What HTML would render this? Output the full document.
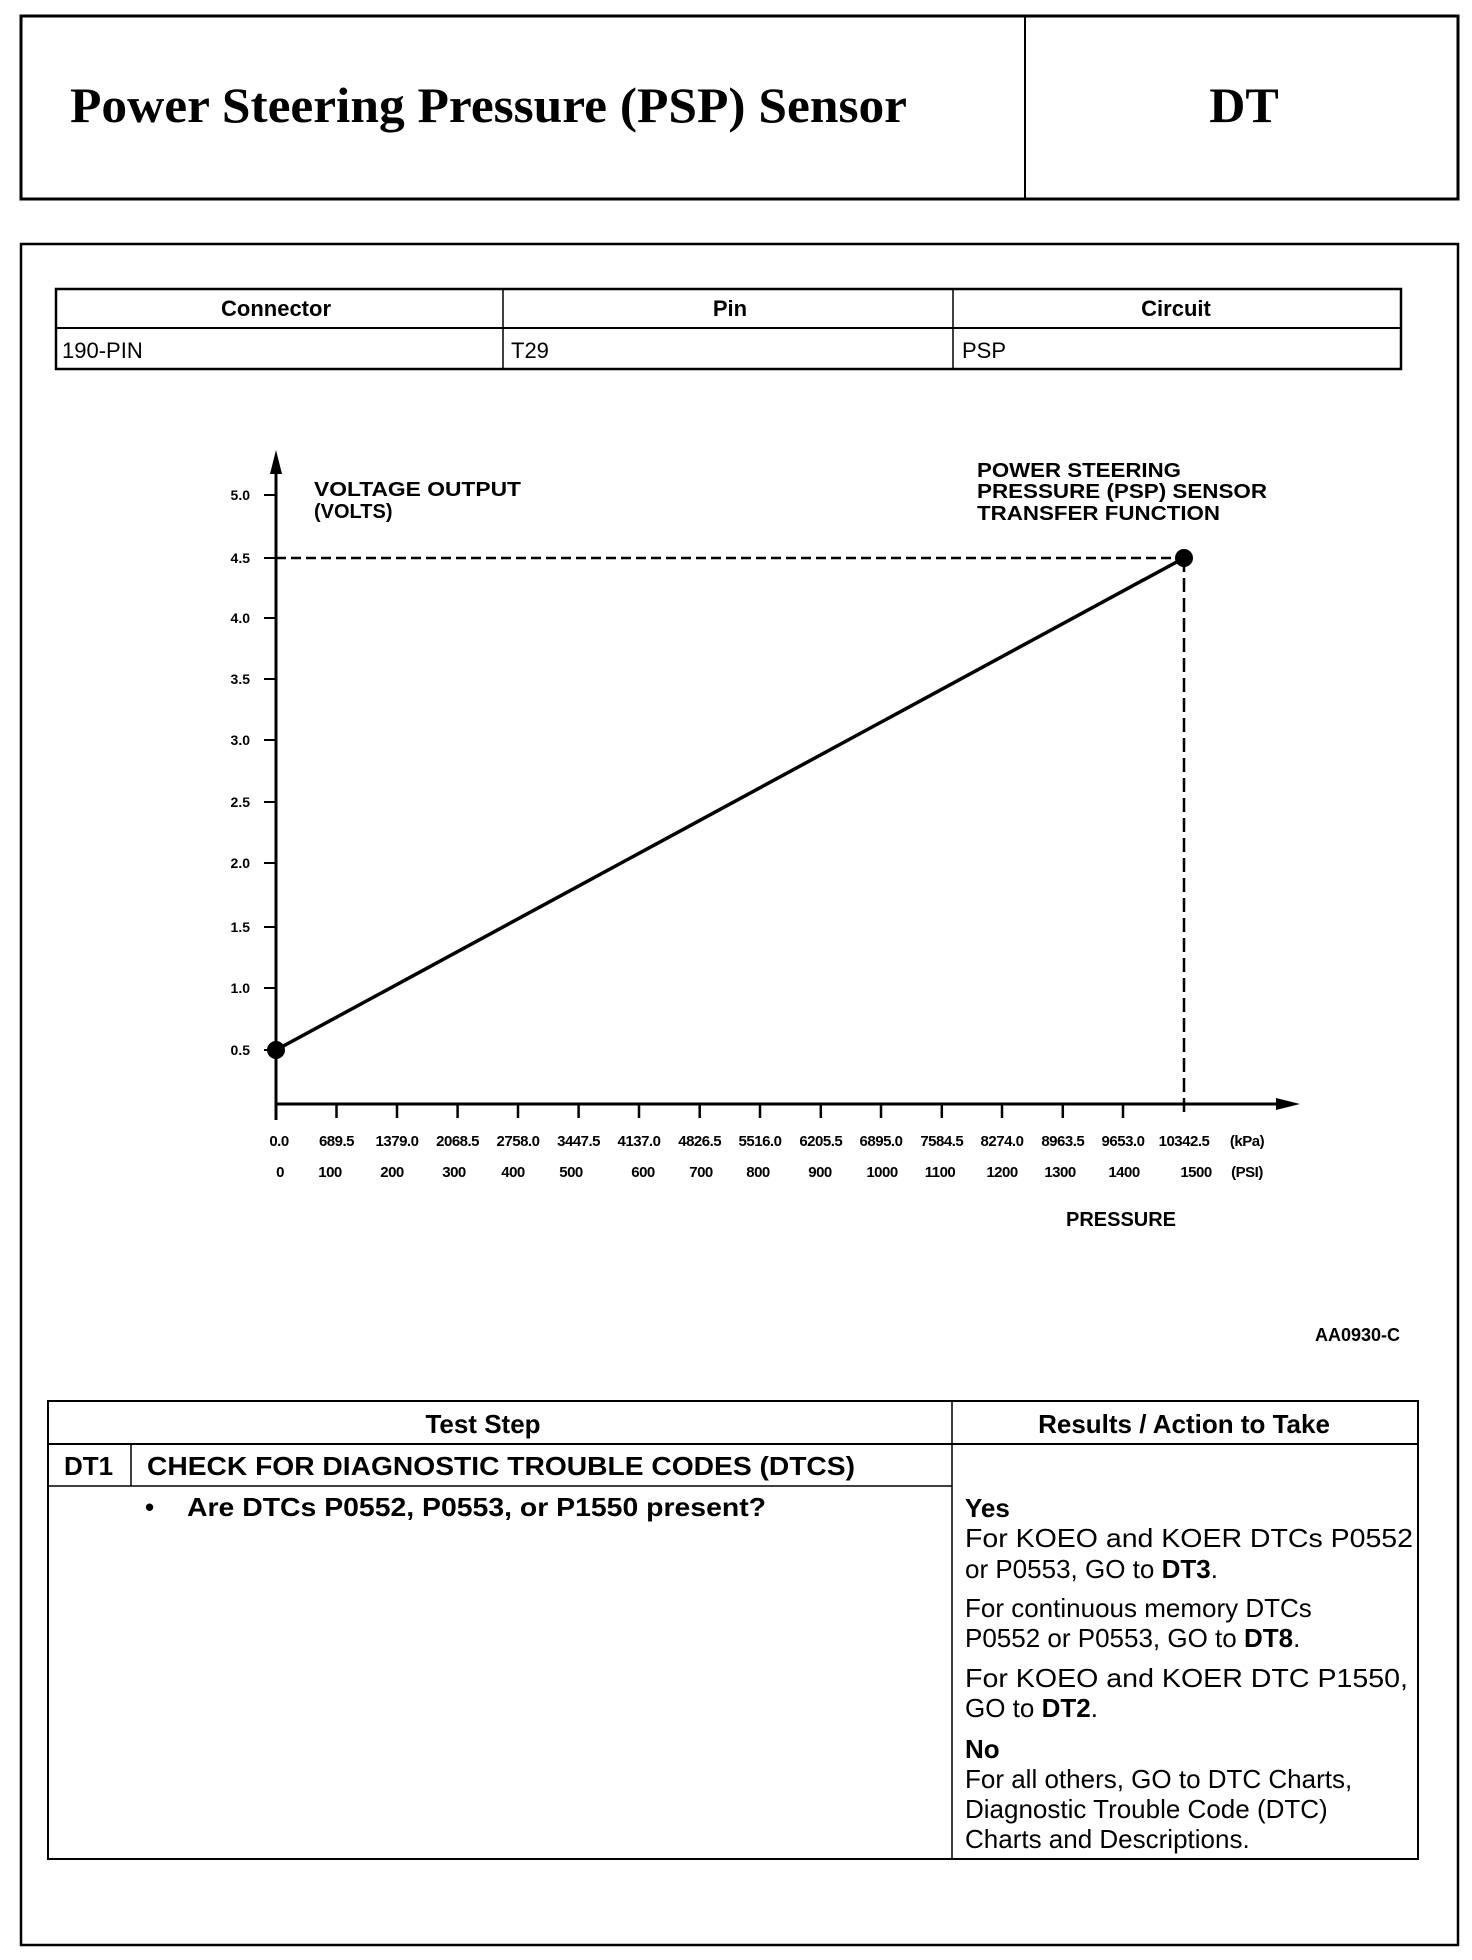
<!DOCTYPE html>
<html><head><meta charset="utf-8"><style>
html,body{margin:0;padding:0;background:#fff;}
svg{display:block;}
text{font-family:"Liberation Sans",Arial,sans-serif;fill:#000;}
.s{font-family:"Liberation Serif",serif;font-weight:bold;}
.b{font-weight:bold;}
</style></head><body>
<svg width="1472" height="1960" viewBox="0 0 1472 1960" xmlns="http://www.w3.org/2000/svg">
<rect x="21" y="16" width="1437" height="183" fill="none" stroke="#000" stroke-width="3"/>
<line x1="1025" y1="16" x2="1025" y2="199" stroke="#000" stroke-width="2"/>
<text class="s" x="70" y="122" font-size="50" textLength="837" lengthAdjust="spacingAndGlyphs">Power Steering Pressure (PSP) Sensor</text>
<text class="s" x="1244" y="122" font-size="50" text-anchor="middle">DT</text>

<rect x="21" y="244" width="1437" height="1701" fill="none" stroke="#000" stroke-width="2.5"/>

<rect x="56" y="289" width="1345" height="80" fill="none" stroke="#000" stroke-width="2.5"/>
<line x1="56" y1="328" x2="1401" y2="328" stroke="#000" stroke-width="2"/>
<line x1="503" y1="289" x2="503" y2="369" stroke="#000" stroke-width="1.5"/>
<line x1="953" y1="289" x2="953" y2="369" stroke="#000" stroke-width="1.5"/>
<text class="b" x="276" y="316" font-size="22" text-anchor="middle">Connector</text>
<text class="b" x="730" y="316" font-size="22" text-anchor="middle">Pin</text>
<text class="b" x="1176" y="316" font-size="22" text-anchor="middle">Circuit</text>
<text x="62" y="358" font-size="22">190-PIN</text>
<text x="511" y="358" font-size="22">T29</text>
<text x="962" y="358" font-size="22">PSP</text>

<line x1="276" y1="462" x2="276" y2="1120" stroke="#000" stroke-width="3"/>
<polygon points="276,450 270,474 282,474" fill="#000"/>
<line x1="276" y1="1104" x2="1285" y2="1104" stroke="#000" stroke-width="3"/>
<polygon points="1300,1104 1276,1098 1276,1110" fill="#000"/>
<g stroke="#000" stroke-width="2">
<line x1="264" y1="495" x2="276" y2="495"/><line x1="264" y1="558" x2="276" y2="558"/>
<line x1="264" y1="618" x2="276" y2="618"/><line x1="264" y1="679" x2="276" y2="679"/>
<line x1="264" y1="740" x2="276" y2="740"/><line x1="264" y1="802" x2="276" y2="802"/>
<line x1="264" y1="863" x2="276" y2="863"/><line x1="264" y1="927" x2="276" y2="927"/>
<line x1="264" y1="988" x2="276" y2="988"/><line x1="264" y1="1050" x2="276" y2="1050"/>
</g>
<g class="b" font-size="14" text-anchor="end" font-weight="bold">
<text x="250" y="500">5.0</text><text x="250" y="563">4.5</text><text x="250" y="623">4.0</text>
<text x="250" y="684">3.5</text><text x="250" y="745">3.0</text><text x="250" y="807">2.5</text>
<text x="250" y="868">2.0</text><text x="250" y="932">1.5</text><text x="250" y="993">1.0</text>
<text x="250" y="1055">0.5</text>
</g>
<g stroke="#000" stroke-width="2.5">
<line x1="336.5" y1="1104" x2="336.5" y2="1118"/><line x1="397" y1="1104" x2="397" y2="1118"/>
<line x1="457.6" y1="1104" x2="457.6" y2="1118"/><line x1="518" y1="1104" x2="518" y2="1118"/>
<line x1="578.6" y1="1104" x2="578.6" y2="1118"/><line x1="639" y1="1104" x2="639" y2="1118"/>
<line x1="699.7" y1="1104" x2="699.7" y2="1118"/><line x1="760" y1="1104" x2="760" y2="1118"/>
<line x1="820.8" y1="1104" x2="820.8" y2="1118"/><line x1="881" y1="1104" x2="881" y2="1118"/>
<line x1="941.8" y1="1104" x2="941.8" y2="1118"/><line x1="1002" y1="1104" x2="1002" y2="1118"/>
<line x1="1062.8" y1="1104" x2="1062.8" y2="1118"/><line x1="1123" y1="1104" x2="1123" y2="1118"/>
</g>
<line x1="276" y1="558" x2="1184" y2="558" stroke="#000" stroke-width="2.5" stroke-dasharray="10,5"/>
<line x1="1184" y1="558" x2="1184" y2="1118" stroke="#000" stroke-width="2.5" stroke-dasharray="14,6"/>
<line x1="276" y1="1050" x2="1184" y2="558" stroke="#000" stroke-width="3.5"/>
<circle cx="276" cy="1050" r="9" fill="#000"/>
<circle cx="1184" cy="558" r="9" fill="#000"/>
<text class="b" x="314" y="496" font-size="20" textLength="207" lengthAdjust="spacingAndGlyphs">VOLTAGE OUTPUT</text>
<text class="b" x="314" y="518" font-size="20">(VOLTS)</text>
<text class="b" x="977" y="477" font-size="20" textLength="204" lengthAdjust="spacingAndGlyphs">POWER STEERING</text>
<text class="b" x="977" y="498" font-size="20" textLength="290" lengthAdjust="spacingAndGlyphs">PRESSURE (PSP) SENSOR</text>
<text class="b" x="977" y="520" font-size="20" textLength="243" lengthAdjust="spacingAndGlyphs">TRANSFER FUNCTION</text>
<g class="b" font-size="15" text-anchor="middle" font-weight="bold" letter-spacing="-0.5">
<text x="279" y="1146">0.0</text><text x="336.5" y="1146">689.5</text><text x="397" y="1146">1379.0</text>
<text x="457.6" y="1146">2068.5</text><text x="518" y="1146">2758.0</text><text x="578.6" y="1146">3447.5</text>
<text x="639" y="1146">4137.0</text><text x="699.7" y="1146">4826.5</text><text x="760" y="1146">5516.0</text>
<text x="820.8" y="1146">6205.5</text><text x="881" y="1146">6895.0</text><text x="941.8" y="1146">7584.5</text>
<text x="1002" y="1146">8274.0</text><text x="1062.8" y="1146">8963.5</text><text x="1123" y="1146">9653.0</text>
<text x="1184" y="1146">10342.5</text><text x="1247" y="1146">(kPa)</text>
<text x="280" y="1177">0</text><text x="330" y="1177">100</text><text x="392" y="1177">200</text>
<text x="454" y="1177">300</text><text x="513" y="1177">400</text><text x="571" y="1177">500</text>
<text x="643" y="1177">600</text><text x="701" y="1177">700</text><text x="758" y="1177">800</text>
<text x="820" y="1177">900</text><text x="882" y="1177">1000</text><text x="940" y="1177">1100</text>
<text x="1002" y="1177">1200</text><text x="1060" y="1177">1300</text><text x="1124" y="1177">1400</text>
<text x="1196" y="1177">1500</text><text x="1247" y="1177">(PSI)</text>
</g>
<text class="b" x="1121" y="1226" font-size="20" text-anchor="middle">PRESSURE</text>
<text class="b" x="1400" y="1341" font-size="18" text-anchor="end">AA0930-C</text>

<rect x="48" y="1401" width="1370" height="458" fill="none" stroke="#000" stroke-width="2"/>
<line x1="952" y1="1401" x2="952" y2="1859" stroke="#000" stroke-width="1.5"/>
<line x1="48" y1="1444" x2="1418" y2="1444" stroke="#000" stroke-width="2"/>
<line x1="48" y1="1486" x2="952" y2="1486" stroke="#000" stroke-width="1.5"/>
<line x1="131" y1="1444" x2="131" y2="1486" stroke="#000" stroke-width="1.5"/>
<text class="b" x="483" y="1433" font-size="26" text-anchor="middle">Test Step</text>
<text class="b" x="1184" y="1433" font-size="26" text-anchor="middle">Results / Action to Take</text>
<text class="b" x="64" y="1475" font-size="26">DT1</text>
<text class="b" x="147" y="1475" font-size="26" textLength="708" lengthAdjust="spacingAndGlyphs">CHECK FOR DIAGNOSTIC TROUBLE CODES (DTCS)</text>
<text class="b" x="145" y="1516" font-size="26">•</text>
<text class="b" x="187" y="1516" font-size="26" textLength="579" lengthAdjust="spacingAndGlyphs">Are DTCs P0552, P0553, or P1550 present?</text>
<g font-size="26">
<text class="b" x="965" y="1517">Yes</text>
<text x="965" y="1547" textLength="448" lengthAdjust="spacingAndGlyphs">For KOEO and KOER DTCs P0552</text>
<text x="965" y="1578">or P0553, GO to  <tspan font-weight="bold">DT3</tspan>.</text>
<text x="965" y="1617">For continuous memory DTCs</text>
<text x="965" y="1647">P0552 or P0553, GO to  <tspan font-weight="bold">DT8</tspan>.</text>
<text x="965" y="1687" textLength="443" lengthAdjust="spacingAndGlyphs">For KOEO and KOER DTC P1550,</text>
<text x="965" y="1717">GO to  <tspan font-weight="bold">DT2</tspan>.</text>
<text class="b" x="965" y="1758">No</text>
<text x="965" y="1788">For all others, GO to DTC Charts,</text>
<text x="965" y="1818">Diagnostic Trouble Code (DTC)</text>
<text x="965" y="1848">Charts and Descriptions.</text>
</g>
</svg>
</body></html>
